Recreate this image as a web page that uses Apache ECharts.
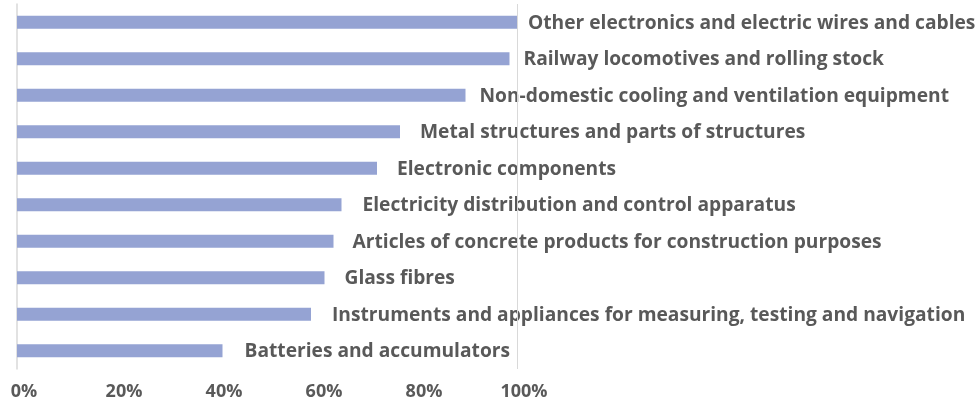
<!DOCTYPE html>
<html>
<head>
<meta charset="utf-8">
<script src="https://cdn.jsdelivr.net/npm/echarts@6/dist/echarts.min.js"></script>
<style>html,body{margin:0;padding:0;background:#fff;}#c{width:979px;height:401px;}</style>
</head>
<body>
<div id="c"></div>
<script>
const categories = [
  "Other electronics and electric wires and cables",
  "Railway locomotives and rolling stock",
  "Non-domestic cooling and ventilation equipment",
  "Metal structures and parts of structures",
  "Electronic components",
  "Electricity distribution and control apparatus",
  "Articles of concrete products for construction purposes",
  "Glass fibres",
  "Instruments and appliances for measuring, testing and navigation",
  "Batteries and accumulators"
];
const values = [100.1, 98.5, 89.7, 76.6, 72.0, 64.9, 63.3, 61.5, 58.8, 41.1];
const xTicks = [0, 20, 40, 60, 80, 100];

const labelGaps = [11, 14, 14, 20, 20, 21, 19, 20, 21, 22];
const FONT = '"Open Sans", sans-serif';
const chart = echarts.init(document.getElementById('c'));
chart.setOption({
  animation: false,
  grid: { left: 17, right: 462, top: 4, bottom: 32, containLabel: false },
  xAxis: {
    type: 'value', min: xTicks[0], max: xTicks[xTicks.length - 1], interval: xTicks[1] - xTicks[0],
    axisLine: { show: false }, axisTick: { show: false },
    splitLine: { show: false },
    axisLabel: {
      formatter: v => v + '%', color: '#595959', fontSize: 18, fontWeight: 700,
      fontFamily: FONT, margin: 14, padding: [0, 0, 0, 14]
    }
  },
  yAxis: {
    type: 'category', data: categories, inverse: true,
    axisLine: { show: true, lineStyle: { color: '#d9d9d9', width: 1.5 } },
    axisTick: { show: false }, axisLabel: { show: false }
  },
  series: [{
    type: 'bar', barWidth: 13,
    data: values.map((v, i) => ({ value: v, label: { distance: labelGaps[i] } })),
    itemStyle: { color: '#95a3d3' },
    label: {
      show: true, position: 'right', formatter: p => p.name, offset: [0, 1],
      color: '#595959', fontSize: 19.2, fontWeight: 700, fontFamily: FONT
    },
    markLine: {
      silent: true, symbol: 'none', label: { show: false },
      lineStyle: { color: '#d9d9d9', width: 1, type: 'solid' },
      data: [{ xAxis: 100 }]
    }
  }]
});
</script>
</body>
</html>
